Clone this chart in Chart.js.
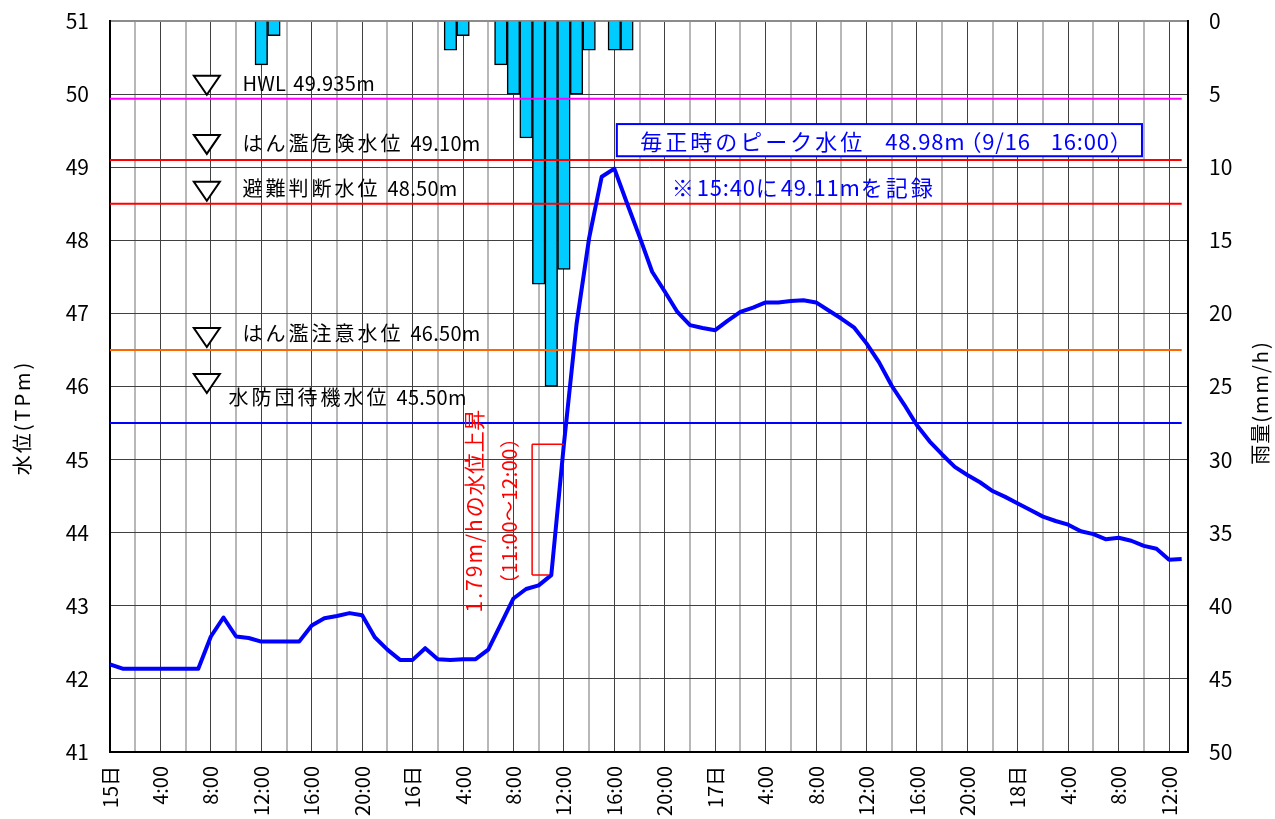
<!DOCTYPE html>
<html lang="ja">
<head>
<meta charset="UTF-8">
<title>水位・雨量</title>
<script src="https://cdn.jsdelivr.net/npm/chart.js"></script>
<style>
  html, body { margin: 0; padding: 0; background: #fff; }
  canvas { display: block; }
</style>
</head>
<body>
<canvas id="grafico" width="1275" height="819"></canvas>
<script>
// 水位(TPm) 15日0:00から1時間ごと
const waterLevel = [
  42.20, 42.14, 42.14, 42.14, 42.14, 42.14, 42.14, 42.14, 42.58, 42.84,
  42.58, 42.56, 42.51, 42.51, 42.51, 42.51, 42.73, 42.83, 42.86, 42.90,
  42.87, 42.57, 42.40, 42.26, 42.26, 42.42, 42.27, 42.26, 42.27, 42.27,
  42.40, 42.75, 43.10, 43.23, 43.28, 43.42, 45.21, 46.85, 48.03, 48.87,
  48.98, 48.51, 48.05, 47.57, 47.30, 47.02, 46.84, 46.80, 46.77, 46.90,
  47.02, 47.08, 47.15, 47.15, 47.17, 47.18, 47.15, 47.04, 46.93, 46.81,
  46.59, 46.33, 46.01, 45.75, 45.47, 45.25, 45.07, 44.90, 44.79, 44.69,
  44.57, 44.49, 44.40, 44.31, 44.22, 44.16, 44.11, 44.02, 43.98, 43.91,
  43.93, 43.89, 43.82, 43.78, 43.63, 43.64
];

// 雨量(mm/h)
const rainHours = [12, 13, 27, 28, 31, 32, 33, 34, 35, 36, 37, 38, 40, 41];
const rainMm = [3, 1, 2, 1, 3, 5, 8, 18, 25, 17, 5, 2, 2, 2];

// 基準水位
const levelValues = [49.935, 49.10, 48.50, 46.50, 45.50];
const levelNames = ['HWL', 'はん濫危険水位', '避難判断水位', 'はん濫注意水位', '水防団待機水位'];
const levelTexts = ['49.935m', '49.10m', '48.50m', '46.50m', '45.50m'];
const levelColors = ['#ff00ff', '#ff0000', '#ff0000', '#ff6600', '#0000ff'];

// 横軸ラベル (4時間ごと)
const xTickLabels = ['15日', '4:00', '8:00', '12:00', '16:00', '20:00',
  '16日', '4:00', '8:00', '12:00', '16:00', '20:00',
  '17日', '4:00', '8:00', '12:00', '16:00', '20:00',
  '18日', '4:00', '8:00', '12:00'];

const FONT = '"Noto Sans CJK JP", "Noto Sans", sans-serif';
Chart.defaults.font.family = FONT;
Chart.defaults.color = '#000';

// 注記の配置
const note = {
  triHour: 7.68, triW: 26, triH: 19,
  triLift: [4, 6, 3, 3, 30],
  textHour: [10.5, 10.5, 10.5, 10.5, 9.4],
  textLift: [15, 16, 15, 17, 26],
  box: { h0: 40.2, h1: 81.85, top: 49.59, bottom: 49.15 },
  peakText: '毎正時のピーク水位　48.98m（9/16　16:00）',
  recText: '※15:40に49.11mを記録', recHour: 44.55, recLevel: 48.72,
  rateText: '1.79m/hの水位上昇', rateHour: 28.85, rateLevel: 44.30,
  spanText: '（11:00～12:00）', spanHour: 31.65, spanLevel: 44.30,
  bracketHour: 33.48, bracketTopEnd: 36, bracketBottomEnd: 34.8
};

// 文字ごとに間隔を変えて描く (全角は広め、全角括弧は詰める)
function stepFor(ctx, ch, g) {
  const w = ctx.measureText(ch).width;
  if (ch === '（') return { shift: -g.paren, adv: w - g.paren + g.narrow };
  if (ch === '）') return { shift: 0, adv: w - g.paren + g.narrow };
  if (ch === '　') return { shift: 0, adv: w + g.space };
  return { shift: 0, adv: w + (ch.charCodeAt(0) > 0x2000 ? g.wide : g.narrow) };
}
function spacedWidth(ctx, text, g) {
  let w = 0;
  for (const ch of text) w += stepFor(ctx, ch, g).adv;
  return w;
}
function drawSpaced(ctx, text, px, py, g, align) {
  let cx = align === 'center' ? px - spacedWidth(ctx, text, g) / 2 : px;
  ctx.textAlign = 'left';
  for (const ch of text) {
    const s = stepFor(ctx, ch, g);
    ctx.fillText(ch, cx + s.shift, py);
    cx += s.adv;
  }
  return cx;
}
function rotatedText(ctx, text, px, py, g) {
  ctx.save();
  ctx.translate(px, py);
  ctx.rotate(-Math.PI / 2);
  ctx.textBaseline = 'middle';
  drawSpaced(ctx, text, 0, 0, g, 'center');
  ctx.restore();
}

const annotations = {
  id: 'annotations',
  afterDraw(chart) {
    const { ctx, scales: { x, y }, chartArea } = chart;
    ctx.save();

    // 基準水位の▽とラベル
    const lg = { wide: 3, narrow: 0.3, paren: 0, space: 0 };
    levelValues.forEach((v, i) => {
      const ly = y.getPixelForValue(v);
      const cx = x.getPixelForValue(note.triHour);
      const bottom = ly - note.triLift[i];
      ctx.beginPath();
      ctx.moveTo(cx - note.triW / 2, bottom - note.triH);
      ctx.lineTo(cx + note.triW / 2, bottom - note.triH);
      ctx.lineTo(cx, bottom);
      ctx.closePath();
      ctx.fillStyle = '#fff';
      ctx.fill();
      ctx.strokeStyle = '#000';
      ctx.lineWidth = 2;
      ctx.stroke();

      ctx.font = '20px ' + FONT;
      ctx.fillStyle = '#000';
      ctx.textBaseline = 'middle';
      const ty = ly - note.textLift[i];
      const end = drawSpaced(ctx, levelNames[i], x.getPixelForValue(note.textHour[i]), ty, lg, 'left');
      drawSpaced(ctx, levelTexts[i], end + 7, ty, lg, 'left');
    });

    // ピーク水位の枠
    const bx0 = x.getPixelForValue(note.box.h0), bx1 = x.getPixelForValue(note.box.h1);
    const by0 = y.getPixelForValue(note.box.top), by1 = y.getPixelForValue(note.box.bottom);
    ctx.fillStyle = '#fff';
    ctx.fillRect(bx0, by0, bx1 - bx0, by1 - by0);
    ctx.strokeStyle = '#0000ff';
    ctx.lineWidth = 2;
    ctx.strokeRect(bx0, by0, bx1 - bx0, by1 - by0);
    const bg = { wide: 3, narrow: 0.8, paren: 6, space: -2 };
    ctx.font = '22px ' + FONT;
    ctx.fillStyle = '#0000ff';
    ctx.textBaseline = 'middle';
    drawSpaced(ctx, note.peakText, (bx0 + bx1) / 2 + 4, (by0 + by1) / 2 + 1, bg, 'center');
    drawSpaced(ctx, note.recText, x.getPixelForValue(note.recHour), y.getPixelForValue(note.recLevel), bg, 'left');

    // 水位上昇の注記
    ctx.strokeStyle = '#ff0000';
    ctx.lineWidth = 1.5;
    const brx = x.getPixelForValue(note.bracketHour);
    const yTop = y.getPixelForValue(waterLevel[36]);
    const yBot = y.getPixelForValue(waterLevel[35]);
    ctx.beginPath();
    ctx.moveTo(brx, yTop);
    ctx.lineTo(brx, yBot);
    ctx.moveTo(brx, yTop);
    ctx.lineTo(x.getPixelForValue(note.bracketTopEnd), yTop);
    ctx.moveTo(brx, yBot);
    ctx.lineTo(x.getPixelForValue(note.bracketBottomEnd), yBot);
    ctx.stroke();

    ctx.fillStyle = '#ff0000';
    ctx.font = '21px ' + FONT;
    rotatedText(ctx, note.rateText, x.getPixelForValue(note.rateHour), y.getPixelForValue(note.rateLevel),
      { wide: 0.6, narrow: 2, paren: 0, space: 0 });
    ctx.font = '20px ' + FONT;
    rotatedText(ctx, note.spanText, x.getPixelForValue(note.spanHour), y.getPixelForValue(note.spanLevel),
      { wide: 0.5, narrow: 0.5, paren: 6, space: 0 });

    // 軸タイトル
    ctx.fillStyle = '#000';
    ctx.font = '20px ' + FONT;
    const midY = (chartArea.top + chartArea.bottom) / 2;
    rotatedText(ctx, '水位(TPm)', 22, midY + 31, { wide: 2, narrow: 3, paren: 0, space: 0 });
    rotatedText(ctx, '雨量(mm/h)', 1260, midY + 16, { wide: 1, narrow: 2, paren: 0, space: 0 });

    ctx.restore();
  }
};

const datasets = [
  {
    type: 'line',
    label: '水位',
    data: waterLevel.map((v, i) => ({ x: i, y: v })),
    borderColor: '#0000ff',
    borderWidth: 4,
    pointRadius: 0,
    tension: 0,
    borderJoinStyle: 'round',
    yAxisID: 'y',
    order: 1
  },
  ...levelValues.map((v, i) => ({
    type: 'line',
    label: levelNames[i],
    data: [{ x: 0, y: v }, { x: waterLevel.length - 1, y: v }],
    borderColor: levelColors[i],
    borderWidth: 2,
    pointRadius: 0,
    yAxisID: 'y',
    order: 2
  })),
  {
    type: 'bar',
    label: '雨量',
    data: rainHours.map((h, i) => ({ x: h, y: rainMm[i] })),
    backgroundColor: '#00ccff',
    borderColor: '#000',
    borderWidth: 1.5,
    barPercentage: 1,
    categoryPercentage: 1,
    yAxisID: 'y2',
    order: 3
  }
];

// 縦軸のラベル分の余白は付けない
const noPad = s => { s.paddingTop = 0; s.paddingBottom = 0; };

const ctx = document.getElementById('grafico').getContext('2d');
const chart = new Chart(ctx, {
  type: 'line',
  data: { datasets: datasets },
  options: {
    responsive: false,
    animation: false,
    layout: { padding: { top: 21, left: 0, right: 0, bottom: 0 } },
    plugins: { legend: { display: false }, tooltip: { enabled: false } },
    scales: {
      x: {
        type: 'linear',
        min: 0,
        max: 85.5,
        offset: false,
        afterBuildTicks: s => {
          s.ticks = [];
          for (let h = 0; h <= 84; h += 2) s.ticks.push({ value: h });
        },
        afterFit: s => { s.height = 67; s.paddingLeft = 0; s.paddingRight = 0; },
        ticks: {
          autoSkip: false,
          minRotation: 90,
          maxRotation: 90,
          padding: 14,
          font: { size: 20 },
          callback: v => (v % 4 === 0 ? xTickLabels[v / 4] : '')
        },
        grid: {
          offset: false,
          drawTicks: false,
          color: c => (c.tick && c.tick.value % 4 === 0 ? '#404040' : '#b8b8b8'),
          lineWidth: c => (c.tick && c.tick.value % 4 === 0 ? 1 : 2)
        },
        border: { color: '#000', width: 2 }
      },
      y: {
        position: 'left',
        min: 41,
        max: 51,
        afterFit: s => { s.width = 110; noPad(s); },
        ticks: { stepSize: 1, padding: 21, font: { size: 21 } },
        grid: {
          drawTicks: false,
          color: c => (c.tick && c.tick.value === 51 ? '#8c8c8c' : '#404040'),
          lineWidth: c => (c.tick && c.tick.value === 51 ? 2 : 1)
        },
        border: { color: '#000', width: 2 }
      },
      y2: {
        position: 'right',
        reverse: true,
        min: 0,
        max: 50,
        afterFit: s => { s.width = 87; noPad(s); },
        ticks: { stepSize: 5, padding: 21, font: { size: 21 } },
        grid: { drawOnChartArea: false, drawTicks: false },
        border: { color: '#000', width: 2 }
      }
    }
  },
  plugins: [annotations]
});
</script>
</body>
</html>
